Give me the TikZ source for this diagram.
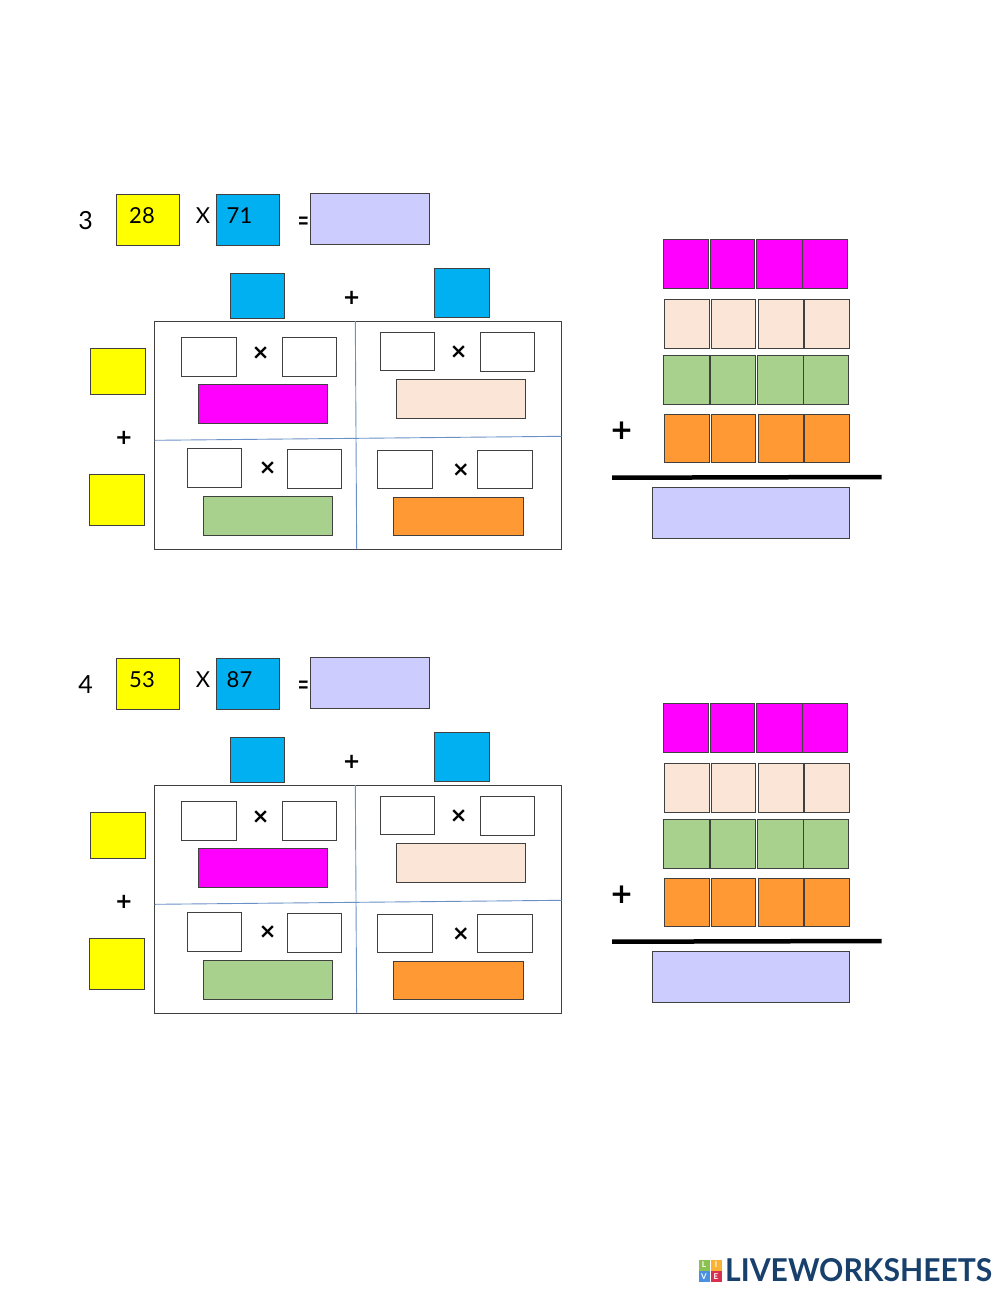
\documentclass[tikz,border=0pt]{standalone}
\usepackage{fontspec}
\usepackage{graphicx}
\setmainfont{Lato}
\newfontfamily\markfont{DejaVu Sans}
\definecolor{ybox}{HTML}{FFFF00}
\definecolor{bbox}{HTML}{00B0F0}
\definecolor{lavbox}{HTML}{CCCCFF}
\definecolor{magbox}{HTML}{FF00FF}
\definecolor{peachbox}{HTML}{FBE5D6}
\definecolor{grnbox}{HTML}{A9D18E}
\definecolor{orgbox}{HTML}{FF9933}
\definecolor{edgegrey}{HTML}{404040}
\definecolor{splitblue}{HTML}{6A90C8}
\definecolor{logoblue}{HTML}{17406D}
\definecolor{logogreen}{HTML}{8CC152}
\definecolor{logoyellow}{HTML}{F9B233}
\definecolor{logosky}{HTML}{4A90E2}
\definecolor{logored}{HTML}{D9304F}
\tikzset{
  shape box/.style={draw=edgegrey, line width=1pt},
  digits/.style={inner sep=0pt, font=\fontsize{22}{22}\selectfont},
  plus/.style={inner sep=0pt, font=\markfont\bfseries\fontsize{#1}{#1}\selectfont},
  timess/.style={inner sep=0pt, font=\markfont\bfseries\fontsize{21}{21}\selectfont},
  tile/.style={inner sep=0pt, text=white, font=\bfseries\fontsize{8}{8}\selectfont, minimum size=11pt},
}
\newcommand{\tilerow}[4]{\foreach \xa/\xb in {#4} \draw[shape box, fill=#1] (\xa,#2) rectangle (\xb,#3);}
\begin{document}
\begin{tikzpicture}[x=1pt, y=-1pt]
\useasboundingbox (0,0) rectangle (1000,1291);
\foreach \dy/\num/\first/\second in {0/3/28/71, 464/4/53/87} {
\begin{scope}[shift={(0,\dy)}]
% top line
\node (num\num) [digits, font=\fontsize{25}{25}\selectfont] at (85.7,220.7) {\num};
\draw[shape box, fill=ybox] (116.7,194.3) rectangle (179.3,245.3);
\draw[shape box, fill=bbox] (216,194.3) rectangle (279.7,245.3);
\draw[shape box, fill=lavbox] (310,193.3) rectangle (429.3,244.3);
\node (first\num) [digits] at (142,215.5) {\first};
\node (second\num) [digits] at (239.5,215.5) {\second};
\node (by\num) [digits] at (203,215.5) {X};
\node (eq\num) [digits, font=\fontsize{20}{20}\selectfont] at (303.5,224.5) {\scalebox{1}[1.7]{=}};
% grid
\draw[shape box, fill=bbox] (230.3,273.3) rectangle (284,318.3);
\draw[shape box, fill=bbox] (434.3,268.3) rectangle (489,317.3);
\node (plustop\num) [plus=21] at (351.7,297.7) {+};
\draw[shape box, fill=ybox] (90.3,348) rectangle (145,394);
\draw[shape box, fill=ybox] (89.3,474.3) rectangle (144.3,525);
\node (plusleft\num) [plus=21] at (124,438.3) {+};
\draw[shape box] (154.7,321) rectangle (561.7,549);
\draw[splitblue, line width=.9pt] (355.3,321) -- (356.7,549);
\draw[splitblue, line width=.9pt] (154.7,440.3) -- (561.7,436.3);
% cells
\foreach \xa/\ya/\xb/\yb in {181.7/337.3/236.3/376, 282/337.3/336.3/376, 380.3/332.7/434.7/370.7, 480.3/332.7/534.7/371.3, 187.3/448.3/241.7/487, 287.3/449.3/341.7/488, 377.3/450/432/488.7, 477.7/450/532.3/488.7}
  \draw[shape box] (\xa,\ya) rectangle (\xb,\yb);
\node (tl\num) [timess] at (260.7,353.3) {×};
\node (tr\num) [timess] at (458.7,351.7) {×};
\node (bl\num) [timess] at (267.7,468.3) {×};
\node (br\num) [timess] at (461,470) {×};
\draw[shape box, fill=magbox] (198,384.3) rectangle (327.7,423);
\draw[shape box, fill=peachbox] (396.7,379.7) rectangle (525.7,418.3);
\draw[shape box, fill=grnbox] (203.3,496.3) rectangle (332.7,535);
\draw[shape box, fill=orgbox] (393.7,497) rectangle (523.3,535.7);
% column sum
\tilerow{magbox}{239.3}{288.7}{663.7/708, 710/754.3, 756.3/802.3, 802.3/847.3}
\tilerow{peachbox}{299.3}{348}{664.3/709.7, 711.3/755.7, 758.3/803.7, 804.7/849}
\tilerow{grnbox}{355.3}{404}{663.7/709, 710.7/755.3, 757.3/803.3, 803.7/848.3}
\tilerow{orgbox}{414}{462.3}{664.3/709.7, 711.3/755.7, 758.3/803.7, 804.7/849}
\node (plussum\num) [plus=28] at (621.7,430.7) {+};
\draw[black, line width=4.5pt] (612,477.7) -- (881.7,477);
\draw[shape box, fill=lavbox] (652.7,487.7) rectangle (849,538.3);
\end{scope}
}
% logo
\foreach \tname/\tx/\ty/\tcol in {L/704/1265/logogreen, I/716/1265/logoyellow, V/704/1276.5/logosky, E/716/1276.5/logored}
  \node (logo\tname) [tile, fill=\tcol] at (\tx,\ty) {\tname};
\node (brand) [inner sep=0pt, anchor=west, text=logoblue, font=\bfseries] at (725,1270.5) {\resizebox{267pt}{23pt}{LIVEWORKSHEETS}};
\end{tikzpicture}
\end{document}
